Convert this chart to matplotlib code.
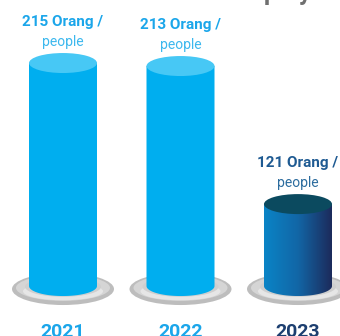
import numpy as np
import matplotlib.pyplot as plt
from matplotlib.patches import Ellipse, PathPatch
from matplotlib.path import Path
from matplotlib.colors import LinearSegmentedColormap

# data
years = ["2021", "2022", "2023"]
employees = [215, 213, 121]
unit = "people"

# scale: pixels per category / per person
XPX = 117.5
YPX = 1.5007
BASE = 66.4          # value where the cylinders stand
YMIN, YMAX = 33.1, 257.0

light_body = "#00aeef"
light_top = "#47c8f5"
light_text = "#1ba6ea"
light_sub = "#3cb8ee"
dark_top = "#0b4a5f"
dark_text = "#1e5a92"
dark_sub = "#2c6c9e"
year_dark = "#1d3f70"

plt.rcParams['font.family'] = ['Roboto', 'DejaVu Sans']

fig = plt.figure(figsize=(3.4, 3.36), dpi=100)
ax = fig.add_axes([0, 0, 1, 1])
ax.set_xlim(-63 / XPX, (340 - 63) / XPX)
ax.set_ylim(YMIN, YMAX)
ax.axis("off")

hw = 34 / XPX          # half width of a cylinder
eh = 10 / YPX          # half height of the end ellipses


def body_path(x, top, base):
    # side of the cylinder: rectangle plus lower half of the bottom ellipse
    t = np.linspace(np.pi, 2 * np.pi, 60)
    arc = np.column_stack([x + hw * np.cos(t), base + eh * np.sin(t)])
    pts = np.vstack([[x - hw, top], arc, [x + hw, top], [x - hw, top]])
    codes = [Path.MOVETO] + [Path.LINETO] * (len(pts) - 2) + [Path.CLOSEPOLY]
    return Path(pts, codes)


def plate(x):
    cy = 64.4
    ax.add_patch(Ellipse((x, cy), 2 * 51 / XPX, 2 * 16 / YPX, fc="#bdbdbd", ec="none", zorder=1))
    ax.add_patch(Ellipse((x, cy + 0.8), 2 * 47 / XPX, 2 * 13 / YPX, fc="#d5d5d5", ec="none", zorder=1))
    ax.add_patch(Ellipse((x, cy - 1.5), 2 * 40 / XPX, 2 * 9 / YPX, fc="#e6e6e6", ec="none", zorder=1))
    ax.add_patch(Ellipse((x, cy + 1.5), 2 * 38 / XPX, 2 * 10 / YPX, fc="#cfcfcf", ec="none", zorder=1))


grad = LinearSegmentedColormap.from_list("blue", ["#0a84c6", "#1266a6", "#1c2b5c"])

for i, v in enumerate(employees):
    plate(i)
    path = body_path(i, v, BASE)
    if i == 2:
        patch = PathPatch(path, fc="none", ec="none")
        ax.add_patch(patch)
        im = ax.imshow(np.linspace(0, 1, 100).reshape(1, -1), cmap=grad, aspect="auto",
                       extent=[i - hw, i + hw, BASE - eh, v], zorder=2)
        im.set_clip_path(patch)
        top_c = dark_top
    else:
        ax.add_patch(PathPatch(path, fc=light_body, ec="none", zorder=2))
        top_c = light_top
    ax.add_patch(Ellipse((i, v), 2 * hw, 2 * eh, fc=top_c, ec="none", zorder=3))

    c1 = dark_text if i == 2 else light_text
    c2 = dark_sub if i == 2 else light_sub
    ax.annotate(f"{v} Orang /", (i, v), xytext=(0, 41 * 0.72), textcoords="offset points",
                ha="center", va="center", fontsize=11, fontweight="bold", color=c1)
    ax.annotate(unit, (i, v), xytext=(0, 21 * 0.72), textcoords="offset points",
                ha="center", va="center", fontsize=10, color=c2)
    ax.text(i, 32.4, years[i], ha="center", va="baseline", fontsize=14,
            fontweight="bold", color=year_dark if i == 2 else light_text)

# chart heading above, only its lower part shows
ax.text((228 - 63) / XPX, YMAX, "Employees", ha="left", va="baseline",
        fontsize=18, fontweight="bold", color="#6f6f6f", clip_on=False)

fig.savefig("out.png", dpi=100)
